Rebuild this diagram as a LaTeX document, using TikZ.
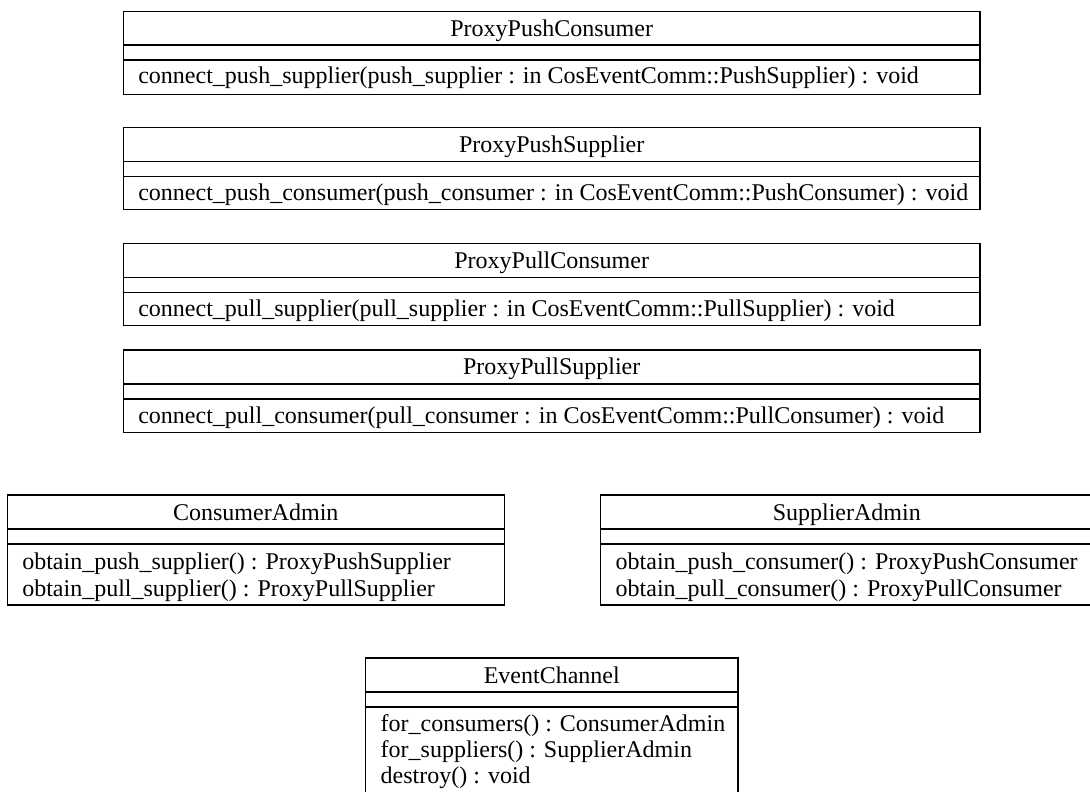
\documentclass[tikz,border=0pt]{standalone}
\usepackage{fontspec}
\setmainfont{Liberation Serif}
\tikzset{
  umltext/.style={font=\fontsize{24}{26}\selectfont, inner sep=0pt, outer sep=0pt},
  umlname/.style={umltext, anchor=base},
  umlop/.style={umltext, anchor=base west},
  umlbox/.style={draw=black, line width=1.2pt},
  umlsep/.style={draw=black, line width=1.2pt},
}
\begin{document}
\begin{tikzpicture}[x=1pt,y=-1pt]
\useasboundingbox (0,0) rectangle (1090,792);

% ProxyPushConsumer
\draw[umlbox] (123.3,11.5) rectangle (980,94.5);
\draw[umlsep] (123.3,45) -- (980,45);
\draw[umlsep] (123.3,60) -- (980,60);
\node[umlname] (ppcname) at (551.7,36.3) {ProxyPushConsumer};
\node[umlop] (ppcop) at (138.3,84) {connect\_push\_supplier(push\_supplier : in CosEventComm::PushSupplier) : void};

% ProxyPushSupplier
\draw[umlbox] (123.3,127.5) rectangle (980,209.3);
\draw[umlsep] (123.3,161.7) -- (980,161.7);
\draw[umlsep] (123.3,176.3) -- (980,176.3);
\node[umlname] (ppsname) at (551.7,152.3) {ProxyPushSupplier};
\node[umlop] (ppsop) at (138.3,200.3) {connect\_push\_consumer(push\_consumer : in CosEventComm::PushConsumer) : void};

% ProxyPullConsumer
\draw[umlbox] (123.3,243.7) rectangle (980,325.7);
\draw[umlsep] (123.3,277.7) -- (980,277.7);
\draw[umlsep] (123.3,292.7) -- (980,292.7);
\node[umlname] (plcname) at (551.7,268.5) {ProxyPullConsumer};
\node[umlop] (plcop) at (138.3,316.7) {connect\_pull\_supplier(pull\_supplier : in CosEventComm::PullSupplier) : void};

% ProxyPullSupplier
\draw[umlbox] (123.3,350) rectangle (980,432.3);
\draw[umlsep] (123.3,384) -- (980,384);
\draw[umlsep] (123.3,399) -- (980,399);
\node[umlname] (plsname) at (551.7,374.8) {ProxyPullSupplier};
\node[umlop] (plsop) at (138.3,423) {connect\_pull\_consumer(pull\_consumer : in CosEventComm::PullConsumer) : void};

% ConsumerAdmin
\draw[umlbox] (7.3,495) rectangle (504.3,605);
\draw[umlsep] (7.3,529) -- (504.3,529);
\draw[umlsep] (7.3,544) -- (504.3,544);
\node[umlname] (caname) at (255.8,520) {ConsumerAdmin};
\node[umlop] (caop1) at (22.3,569.5) {obtain\_push\_supplier() : ProxyPushSupplier};
\node[umlop] (caop2) at (22.3,596) {obtain\_pull\_supplier() : ProxyPullSupplier};

% SupplierAdmin
\draw[umlbox] (600.7,495) rectangle (1093,605);
\draw[umlsep] (600.7,529) -- (1093,529);
\draw[umlsep] (600.7,544) -- (1093,544);
\node[umlname] (saname) at (846.8,520) {SupplierAdmin};
\node[umlop] (saop1) at (615.7,569.5) {obtain\_push\_consumer() : ProxyPushConsumer};
\node[umlop] (saop2) at (615.7,596) {obtain\_pull\_consumer() : ProxyPullConsumer};

% EventChannel
\draw[umlbox] (365.7,658) rectangle (738,797);
\draw[umlsep] (365.7,692) -- (738,692);
\draw[umlsep] (365.7,707) -- (738,707);
\node[umlname] (ecname) at (551.8,683) {EventChannel};
\node[umlop] (ecop1) at (380.7,731.5) {for\_consumers() : ConsumerAdmin};
\node[umlop] (ecop2) at (380.7,757.5) {for\_suppliers() : SupplierAdmin};
\node[umlop] (ecop3) at (380.7,783.5) {destroy() : void};
\end{tikzpicture}
\end{document}
